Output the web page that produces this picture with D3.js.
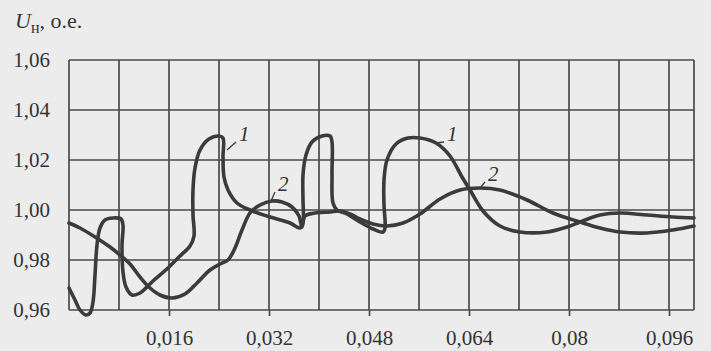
<!DOCTYPE html>
<html>
<head>
<meta charset="utf-8">
<script src="https://cdn.jsdelivr.net/npm/d3@7"></script>
<style>
  html, body { margin: 0; padding: 0; background: #ececec; }
  svg { display: block; }
</style>
</head>
<body>
<svg id="chart" width="711" height="351"></svg>
<script>
// Time axis ticks (s) and voltage axis ticks (p.u.)
const xTickValues = [0.016, 0.032, 0.048, 0.064, 0.08, 0.096];
const xTickLabels = ["0,016", "0,032", "0,048", "0,064", "0,08", "0,096"];
const yTickValues = [0.96, 0.98, 1.00, 1.02, 1.04, 1.06];
const yTickLabels = ["0,96", "0,98", "1,00", "1,02", "1,04", "1,06"];

// Curve 1: load voltage, relay-type regulation
const curve1T = [0, 0.00096, 0.00176, 0.00272, 0.00336, 0.00384, 0.00416, 0.00448, 0.00496, 0.00576,
  0.00704, 0.00832, 0.00864, 0.00848, 0.00864, 0.00912, 0.01008, 0.01136, 0.01344, 0.01584,
  0.01776, 0.01936, 0.02, 0.01984, 0.01984, 0.02016, 0.02096, 0.0224, 0.024, 0.02464,
  0.02464, 0.0248, 0.02544, 0.02688, 0.02896, 0.03216, 0.03536, 0.03696, 0.03744, 0.03744,
  0.03744, 0.03792, 0.03888, 0.04048, 0.04176, 0.04208, 0.04208, 0.04224, 0.04288, 0.04448,
  0.04656, 0.04864, 0.05024, 0.05056, 0.0504, 0.0504, 0.05088, 0.05232, 0.05424, 0.05616,
  0.05872, 0.06096, 0.06288, 0.06416, 0.06624, 0.06896, 0.07216, 0.07648, 0.07968, 0.08176,
  0.08496, 0.08816, 0.09248, 0.09664, 0.1];
const curve1U = [0.9688, 0.964, 0.960, 0.958, 0.9588, 0.9632, 0.974, 0.986, 0.9928, 0.996,
  0.9968, 0.9964, 0.994, 0.986, 0.9752, 0.9692, 0.966, 0.9668, 0.9716, 0.9768,
  0.9816, 0.9856, 0.9896, 0.998, 1.008, 1.0168, 1.024, 1.0284, 1.0296, 1.0288,
  1.0212, 1.0132, 1.008, 1.0028, 1.0, 0.9972, 0.9948, 0.9928, 0.9952, 1.004,
  1.014, 1.022, 1.0272, 1.0296, 1.0296, 1.0272, 1.014, 1.0028, 1.0, 0.9984,
  0.9952, 0.9924, 0.9912, 0.9928, 1.002, 1.012, 1.02, 1.0264, 1.0288, 1.0288,
  1.0268, 1.0216, 1.0132, 1.008, 0.9996, 0.9936, 0.9912, 0.9912, 0.9932, 0.9952,
  0.998, 0.9988, 0.998, 0.9972, 0.9968];

// Curve 2: load voltage, continuous regulation
const curve2T = [0, 0.00176, 0.00416, 0.00656, 0.00816, 0.00976, 0.01136, 0.01296, 0.01456, 0.01648,
  0.01856, 0.02048, 0.02256, 0.02416, 0.02544, 0.02656, 0.02768, 0.02896, 0.03056, 0.03248,
  0.03408, 0.03568, 0.0368, 0.03728, 0.03776, 0.03936, 0.04176, 0.04336, 0.04496, 0.04656,
  0.04864, 0.05088, 0.05344, 0.05616, 0.05936, 0.06256, 0.06576, 0.06896, 0.07328, 0.07744,
  0.08176, 0.08496, 0.08816, 0.09248, 0.09664, 0.1];
const curve2U = [0.9948, 0.9928, 0.9892, 0.9852, 0.982, 0.9784, 0.9732, 0.9688, 0.966, 0.9648,
  0.9664, 0.9708, 0.976, 0.9784, 0.98, 0.9848, 0.992, 0.9988, 1.002, 1.0036,
  1.0032, 1.0012, 0.9976, 0.9932, 0.9976, 0.9988, 0.9992, 0.9996, 0.9984, 0.9964,
  0.9944, 0.9936, 0.9948, 0.9984, 1.0044, 1.008, 1.0088, 1.008, 1.004, 0.9988,
  0.9952, 0.9928, 0.9912, 0.9908, 0.992, 0.9936];

// Curve annotations: label text, label anchor point, leader end on the curve
const curveLabels = ["1", "1", "2", "2"];
const labelT = [0.0272, 0.06048, 0.03344, 0.06704];
const labelU = [1.0276, 1.0276, 1.0076, 1.0116];
const leaderT = [0.02528, 0.05872, 0.03232, 0.06576];
const leaderU = [1.024, 1.0268, 1.0036, 1.0088];

const svg = d3.select("#chart");
const ink = "#3b3b3b";
const serif = '"Liberation Serif", "DejaVu Serif", "Noto Serif", "Times New Roman", serif';

const x = d3.scaleLinear().domain([0, 0.1]).range([69, 694]);
const y = d3.scaleLinear().domain([0.96, 1.06]).range([310, 60]);

// Grid: vertical lines every 0.008 s, horizontal every 0.02 p.u.
const xGrid = d3.range(0, 13).map(i => i * 0.008);
svg.append("g").selectAll("line").data(xGrid).join("line")
  .attr("x1", d => x(d)).attr("x2", d => x(d))
  .attr("y1", y(0.96)).attr("y2", y(1.06))
  .attr("stroke", "#4a4a4a").attr("stroke-width", 1.7);
svg.append("g").selectAll("line").data(yTickValues).join("line")
  .attr("x1", x(0)).attr("x2", x(0.1))
  .attr("y1", d => y(d)).attr("y2", d => y(d))
  .attr("stroke", "#4a4a4a").attr("stroke-width", 1.7);
svg.append("line")
  .attr("x1", x(0.1)).attr("x2", x(0.1))
  .attr("y1", y(0.96)).attr("y2", y(1.06))
  .attr("stroke", "#4a4a4a").attr("stroke-width", 1.7);

// Bottom axis: short ticks below the frame with labels
const xAxis = d3.axisBottom(x).tickValues(xTickValues)
  .tickFormat((d, i) => xTickLabels[i]).tickSize(6).tickPadding(14);
const gx = svg.append("g").attr("transform", `translate(0,${y(0.96)})`).call(xAxis)
  .attr("font-family", serif).attr("font-size", 21);
gx.select(".domain").remove();
gx.selectAll(".tick line").attr("stroke", "#4a4a4a").attr("stroke-width", 1.7);
gx.selectAll(".tick text").attr("fill", "#333");

// Left axis: labels only
const yAxis = d3.axisLeft(y).tickValues(yTickValues)
  .tickFormat((d, i) => yTickLabels[i]).tickSize(0).tickPadding(19);
const gy = svg.append("g").attr("transform", `translate(${x(0)},0)`).call(yAxis)
  .attr("font-family", serif).attr("font-size", 21);
gy.select(".domain").remove();
gy.selectAll(".tick text").attr("fill", "#333");

// Axis title
const title = svg.append("text").attr("x", 15).attr("y", 28)
  .attr("fill", "#333").attr("font-family", serif).attr("font-size", 22);
title.append("tspan").attr("font-style", "italic").text("U");
title.append("tspan").attr("dy", 5).attr("font-size", 16).text("н");
title.append("tspan").attr("dy", -5).text(", о.е.");

// Curves
const line = d3.line()
  .x(d => x(d[0])).y(d => y(d[1]))
  .curve(d3.curveCatmullRom.alpha(0.5));
const series = [
  curve1T.map((t, i) => [t, curve1U[i]]),
  curve2T.map((t, i) => [t, curve2U[i]])
];
svg.append("g").selectAll("path").data(series).join("path")
  .attr("d", line)
  .attr("fill", "none")
  .attr("stroke", ink)
  .attr("stroke-width", 3.6)
  .attr("stroke-linejoin", "round")
  .attr("stroke-linecap", "round");

// Curve number labels with leader lines
const ann = svg.append("g");
curveLabels.forEach((lab, i) => {
  ann.append("line")
    .attr("x1", x(labelT[i]) - 3).attr("y1", y(labelU[i]) + 1)
    .attr("x2", x(leaderT[i])).attr("y2", y(leaderU[i]))
    .attr("stroke", ink).attr("stroke-width", 1.3);
  ann.append("text")
    .attr("x", x(labelT[i])).attr("y", y(labelU[i]))
    .attr("fill", "#333")
    .attr("font-family", serif).attr("font-style", "italic").attr("font-size", 21)
    .text(lab);
});
</script>
</body>
</html>
